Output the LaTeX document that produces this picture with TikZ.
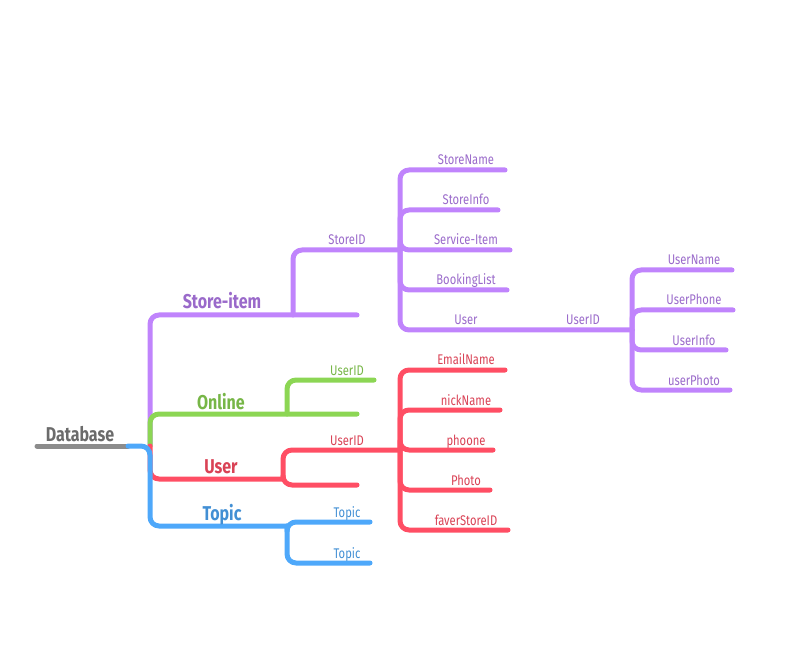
\documentclass[tikz,border=0pt]{standalone}
\usepackage{fontspec}
\setmainfont{Fira Sans}
\newfontfamily\handfont{Fira Sans}[FakeStretch=0.8]
\usetikzlibrary{positioning}
\definecolor{stc}{RGB}{192,132,252}
\definecolor{onc}{RGB}{140,214,84}
\definecolor{usc}{RGB}{255,78,100}
\definecolor{tpc}{RGB}{78,168,250}
\definecolor{dbc}{RGB}{140,140,140}
\tikzset{
  br/.style={line width=5pt,rounded corners=9pt},
  lbl/.style={font=\handfont\fontsize{14}{14}\selectfont,inner sep=0pt,anchor=base},
  hd/.style={font=\handfont\bfseries\fontsize{20}{20}\selectfont,inner sep=0pt,anchor=base},
}

\begin{document}
\begin{tikzpicture}[x=1pt,y=-1pt,line cap=round,line join=round]
  \useasboundingbox (0,0) rectangle (804,647);
  % root and junction
  \coordinate (root) at (37,446); \coordinate (rootE) at (128,446); \coordinate (jn) at (150,446);
  \draw[br,dbc] (root) -- (rootE);
  \node[hd,font=\handfont\bfseries\fontsize{20}{20}\selectfont,text=black!58] (dbl) at (80,441) {Database};
  % store-item
  \coordinate (sE) at (357,315); \coordinate (ssplit) at (293,315); \coordinate (sHub) at (400,250);
  \coordinate (uidHub) at (632,330);
  \draw[br,stc] (jn) |- (sE); \draw[br,stc] (ssplit) |- (sHub);
  \node[hd,stc!80!black] (sil) at (222,309) {Store-item};
  \node[lbl,stc!80!black] (sidl) at (347,245) {StoreID};
  \foreach \txt/\yy/\xe [count=\i] in {StoreName/170/505,StoreInfo/210/498,Service-Item/250/510,BookingList/290/507}{
    \coordinate (s\i) at (\xe,\yy); \draw[br,stc] (sHub) |- (s\i);
    \node[lbl,stc!80!black] (sl\i) at (466,\yy-5) {\txt};
  }
  \draw[br,stc] (sHub) |- (uidHub);
  \node[lbl,stc!80!black] (sl5) at (466,325) {User};
  \node[lbl,stc!80!black] (uidl) at (583,325) {UserID};
  \foreach \txt/\yy/\xe [count=\i] in {UserName/270/732,UserPhone/310/733,UserInfo/350/726,userPhoto/390/730}{
    \coordinate (p\i) at (\xe,\yy); \draw[br,stc] (uidHub) |- (p\i);
    \node[lbl,stc!80!black] (pl\i) at (694,\yy-5) {\txt};
  }
  % online
  \coordinate (oE) at (357,414); \coordinate (osplit) at (287,414); \coordinate (o1) at (374,380);
  \draw[br,onc] (jn) |- (oE); \draw[br,onc] (osplit) |- (o1);
  \node[hd,onc!85!black] (ol) at (221,409) {Online};
  \node[lbl,onc!85!black] (o1l) at (347,375) {UserID};
  % user
  \coordinate (usplit) at (283,479); \coordinate (uLow) at (357,485); \coordinate (uHub) at (400,450);
  \draw[br,usc] (jn) |- (usplit); \draw[br,usc] (usplit) |- (uLow); \draw[br,usc] (usplit) |- (uHub);
  \node[hd,usc!85!black] (ul) at (221,473) {User};
  \node[lbl,usc!85!black] (uidl2) at (347,445) {UserID};
  \foreach \txt/\yy/\xe [count=\i] in {EmailName/370/505,nickName/410/500,phoone/450/493,Photo/490/490,faverStoreID/530/508}{
    \coordinate (u\i) at (\xe,\yy); \draw[br,usc] (uHub) |- (u\i);
    \node[lbl,usc!85!black] (ul\i) at (466,\yy-5) {\txt};
  }
  % topic
  \coordinate (tcorner) at (150,526); \coordinate (tsplit) at (287,526);
  \coordinate (t1) at (370,522); \coordinate (t2) at (370,563);
  \draw[br,tpc] (rootE) -| (tcorner) -- (tsplit);
  \draw[br,tpc] (tsplit) |- (t1); \draw[br,tpc] (tsplit) |- (t2);
  \node[hd,tpc!85!black] (tl) at (222,520) {Topic};
  \node[lbl,tpc!85!black] (t1l) at (347,517) {Topic};
  \node[lbl,tpc!85!black] (t2l) at (347,558) {Topic};
\end{tikzpicture}
\end{document}
